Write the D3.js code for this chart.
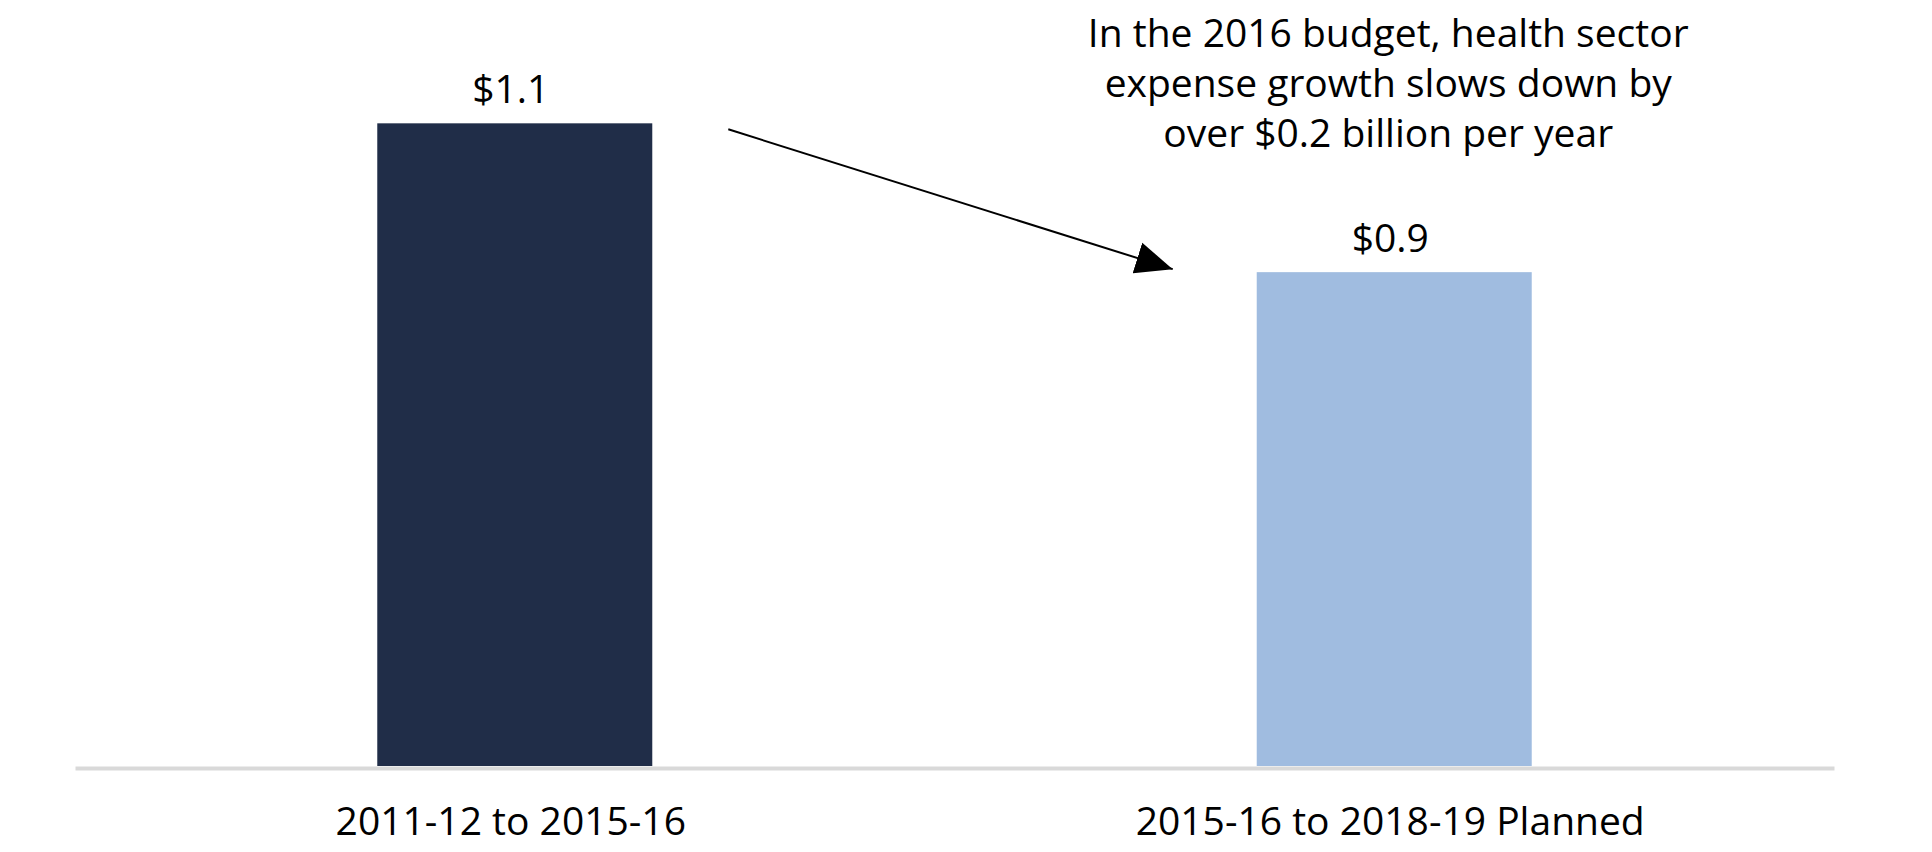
<!DOCTYPE html>
<html>
<head>
  <meta charset="utf-8">
  <title></title>
  <script src="https://d3js.org/d3.v7.min.js"></script>
  <style media="screen">
    body {
      margin: 0;
      background: white;
    }
    text {
      font-family: "Open Sans", "Noto Sans", sans-serif;
      fill: black;
    }
  </style>
</head>
<body>
  <svg id="chart" width="1932" height="852"></svg>
  <script type="text/javascript">
    // average yearly growth in health sector expense, $ billions
    var categories = ["2011-12 to 2015-16", "2015-16 to 2018-19 Planned"]
    var values = [1.14, 0.876]
    var valueLabels = ["$1.1", "$0.9"]
    var colors = ["#202d48", "#a0bce0"]
    var noteLines = ["In the 2016 budget, health sector",
      "expense growth slows down by",
      "over $0.2 billion per year"]

    var svg = d3.select("#chart")

    var x = d3.scaleBand()
      .domain(categories)
      .range([75, 1834])
      .paddingInner(0.6873)
      .paddingOuter(0.3437)

    var y = d3.scaleLinear()
      .domain([0, 1.2])
      .range([766, 89.5])

    var bars = svg.append("g").attr("class", "bars")

    bars.selectAll("rect")
      .data(values)
      .enter().append("rect")
      .attr("x", (d, i) => x(categories[i]))
      .attr("y", d => y(d))
      .attr("width", x.bandwidth())
      .attr("height", d => y(0) - y(d))
      .style("fill", (d, i) => colors[i])

    bars.selectAll("text")
      .data(values)
      .enter().append("text")
      .attr("x", (d, i) => x(categories[i]) + x.bandwidth() / 2 - 4)
      .attr("y", d => y(d) - 20)
      .attr("text-anchor", "middle")
      .style("font-size", "39px")
      .text((d, i) => valueLabels[i])

    // x axis: plain grey baseline, labels below
    var xAxis = svg.append("g")
      .attr("transform", "translate(0," + (y(0) + 2) + ")")
      .call(d3.axisBottom(x).tickSize(0).tickPadding(0))

    xAxis.select(".domain")
      .attr("stroke", "#d9d9d9")
      .attr("stroke-width", 4)

    xAxis.selectAll(".tick text")
      .attr("dy", 0)
      .attr("y", 67)
      .attr("x", -4)
      .style("font-size", "39px")
      .style("font-family", "'Open Sans', 'Noto Sans', sans-serif")
      .style("fill", "black")

    // annotation text
    var noteX = x(categories[1]) + x.bandwidth() / 2 - 6
    svg.append("text")
      .attr("text-anchor", "middle")
      .style("font-size", "39px")
      .selectAll("tspan")
      .data(noteLines)
      .enter().append("tspan")
      .attr("x", noteX)
      .attr("y", (d, i) => 47 + i * 50)
      .text(d => d)

    // arrow from first bar toward second
    svg.append("defs").append("marker")
      .attr("id", "arrowhead")
      .attr("markerUnits", "userSpaceOnUse")
      .attr("markerWidth", 40)
      .attr("markerHeight", 34)
      .attr("viewBox", "0 -17 40 34")
      .attr("refX", 37)
      .attr("refY", 0)
      .attr("orient", "auto")
      .append("path")
      .attr("d", "M0,-16L37,0L0,16Z")
      .style("fill", "black")

    svg.append("line")
      .attr("x1", x(categories[0]) + x.bandwidth() + 76)
      .attr("y1", y(values[0]) + 6)
      .attr("x2", x(categories[1]) - 84)
      .attr("y2", y(values[1]) - 3)
      .attr("stroke", "black")
      .attr("stroke-width", 2)
      .attr("marker-end", "url(#arrowhead)")
  </script>
</body>
</html>
